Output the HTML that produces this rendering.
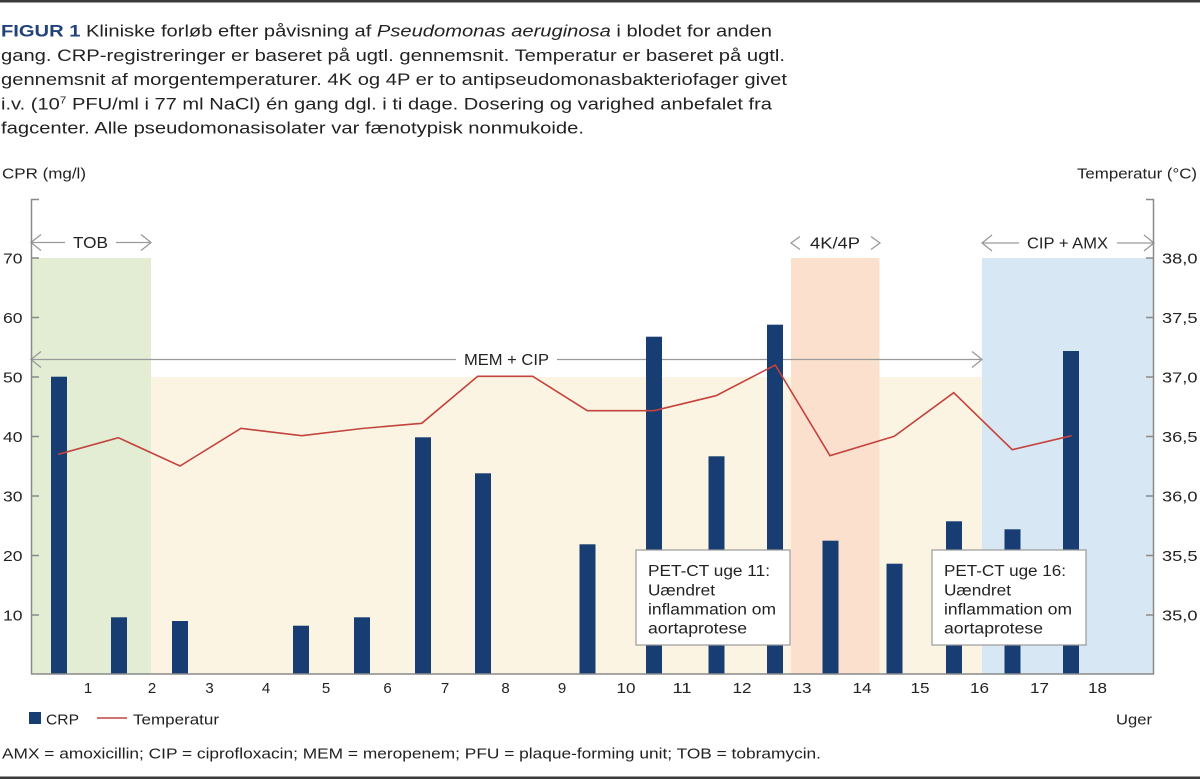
<!DOCTYPE html>
<html>
<head>
<meta charset="utf-8">
<style>
  html,body{margin:0;padding:0;background:#fff;}
  svg{display:block;}
  text{font-family:"Liberation Sans", Arial, sans-serif; fill:#222;}
</style>
</head>
<body>
<svg width="1200" height="779" viewBox="0 0 1200 779" xmlns="http://www.w3.org/2000/svg">
  <!-- borders -->
  <rect x="0" y="0" width="1200" height="2.5" fill="#3a3a3a"/>
  <rect x="0" y="776.5" width="1200" height="2.5" fill="#3a3a3a"/>

  <!-- Title -->
  <g font-size="17">
    <text x="1" y="36.5" textLength="771" lengthAdjust="spacingAndGlyphs"><tspan font-weight="bold" fill="#22427a" style="fill:#22427a">FIGUR 1</tspan> Kliniske forløb efter påvisning af <tspan font-style="italic">Pseudomonas aeruginosa</tspan> i blodet for anden</text>
    <text x="1" y="60.8" textLength="784" lengthAdjust="spacingAndGlyphs">gang. CRP-registreringer er baseret på ugtl. gennemsnit. Temperatur er baseret på ugtl.</text>
    <text x="1" y="85.1" textLength="786" lengthAdjust="spacingAndGlyphs">gennemsnit af morgentemperaturer. 4K og 4P er to antipseudomonasbakteriofager givet</text>
    <text x="1" y="109.4" textLength="771" lengthAdjust="spacingAndGlyphs">i.v. (10<tspan font-size="10" dy="-6">7</tspan><tspan dy="6"> PFU/ml i 77 ml NaCl) én gang dgl. i ti dage. Dosering og varighed anbefalet fra</tspan></text>
    <text x="1" y="133.7" textLength="583" lengthAdjust="spacingAndGlyphs">fagcenter. Alle pseudomonasisolater var fænotypisk nonmukoide.</text>
  </g>

  <!-- Axis titles -->
  <g font-size="15">
    <text x="2" y="178.5" textLength="84" lengthAdjust="spacingAndGlyphs">CPR (mg/l)</text>
    <text x="1077" y="178.5" textLength="120" lengthAdjust="spacingAndGlyphs">Temperatur (°C)</text>
  </g>

  <!-- Bands -->
  <rect x="151" y="377" width="831" height="297" fill="#fbf4e2"/>
  <rect x="31" y="258" width="120" height="416" fill="#e2edd3"/>
  <rect x="791" y="258" width="88.5" height="416" fill="#fae0cd"/>
  <rect x="982" y="258" width="171.5" height="416" fill="#d7e7f3"/>

  <!-- Arrows -->
  <g stroke="#9a9a9a" stroke-width="1.3" fill="none">
    <!-- TOB -->
    <line x1="31" y1="242.5" x2="65" y2="242.5"/>
    <line x1="116" y1="242.5" x2="151" y2="242.5"/>
    <polyline points="41,234.5 31,242.5 41,250.5"/>
    <polyline points="141,234.5 151,242.5 141,250.5"/>
    <!-- MEM + CIP -->
    <line x1="31" y1="359.5" x2="456" y2="359.5"/>
    <line x1="557" y1="359.5" x2="982" y2="359.5"/>
    <polyline points="41,351.5 31,359.5 41,367.5"/>
    <polyline points="972,351.5 982,359.5 972,367.5"/>
    <!-- 4K/4P -->
    <polyline points="800,236.5 791,243 800,249.5"/>
    <polyline points="871,236.5 880,243 871,249.5"/>
    <!-- CIP + AMX -->
    <line x1="982" y1="243" x2="1019" y2="243"/>
    <line x1="1117" y1="243" x2="1154" y2="243"/>
    <polyline points="992,235 982,243 992,251"/>
    <polyline points="1144,235 1154,243 1144,251"/>
  </g>
  <g font-size="15.5">
    <text x="73" y="248" textLength="35" lengthAdjust="spacingAndGlyphs">TOB</text>
    <text x="464" y="365" textLength="85" lengthAdjust="spacingAndGlyphs">MEM + CIP</text>
    <text x="810" y="248.5" textLength="50" lengthAdjust="spacingAndGlyphs">4K/4P</text>
    <text x="1027" y="248.5" textLength="81" lengthAdjust="spacingAndGlyphs">CIP + AMX</text>
  </g>

  <!-- Bars -->
  <g fill="#173d73">
    <rect x="51" y="376.7" width="16" height="297.3"/>
    <rect x="111" y="617.3" width="16" height="56.7"/>
    <rect x="172" y="621" width="16" height="53"/>
    <rect x="293" y="625.7" width="16" height="48.3"/>
    <rect x="354" y="617.3" width="16" height="56.7"/>
    <rect x="415" y="437.3" width="16" height="236.7"/>
    <rect x="475" y="473.3" width="16" height="200.7"/>
    <rect x="579.5" y="544.3" width="16" height="129.7"/>
    <rect x="646" y="336.7" width="16" height="337.3"/>
    <rect x="708.5" y="456.3" width="16" height="217.7"/>
    <rect x="767" y="324.7" width="16" height="349.3"/>
    <rect x="822.5" y="540.7" width="16" height="133.3"/>
    <rect x="886.5" y="563.7" width="16" height="110.3"/>
    <rect x="946" y="521.3" width="16" height="152.7"/>
    <rect x="1004.5" y="529.3" width="16" height="144.7"/>
    <rect x="1063" y="351" width="16" height="323"/>
  </g>

  <!-- Temperature line -->
  <polyline fill="none" stroke="#c4433d" stroke-width="1.6" stroke-linejoin="miter"
    points="58.3,454.3 118.3,437.7 180,466 241,428.3 301.7,435.7 362,428.5 421.7,423.3 477.7,376.3 532.7,376.3 587.3,410.7 654,410.7 716,395.7 775.3,365 830,455.7 894.3,436.3 953.7,392.7 1012.3,449.7 1071.7,435.7"/>

  <!-- Annotation boxes -->
  <rect x="636" y="550" width="154" height="95" fill="#fff" stroke="#9a9a9a" stroke-width="1.2"/>
  <rect x="932" y="550" width="154" height="95" fill="#fff" stroke="#9a9a9a" stroke-width="1.2"/>
  <g font-size="15.5">
    <text x="648" y="576" textLength="122" lengthAdjust="spacingAndGlyphs">PET-CT uge 11:</text>
    <text x="648" y="595.3" textLength="67" lengthAdjust="spacingAndGlyphs">Uændret</text>
    <text x="648" y="614.5" textLength="128" lengthAdjust="spacingAndGlyphs">inflammation om</text>
    <text x="648" y="633.7" textLength="99" lengthAdjust="spacingAndGlyphs">aortaprotese</text>
    <text x="944" y="576" textLength="122" lengthAdjust="spacingAndGlyphs">PET-CT uge 16:</text>
    <text x="944" y="595.3" textLength="67" lengthAdjust="spacingAndGlyphs">Uændret</text>
    <text x="944" y="614.5" textLength="128" lengthAdjust="spacingAndGlyphs">inflammation om</text>
    <text x="944" y="633.7" textLength="99" lengthAdjust="spacingAndGlyphs">aortaprotese</text>
  </g>

  <!-- Axes -->
  <g stroke="#8a8a8a" stroke-width="1.5" fill="none">
    <line x1="31.5" y1="199" x2="31.5" y2="674"/>
    <line x1="1153.5" y1="199" x2="1153.5" y2="674"/>
    <line x1="31" y1="674" x2="1154" y2="674"/>
    <!-- left ticks -->
    <line x1="31" y1="199.5" x2="39" y2="199.5"/>
    <line x1="31" y1="258" x2="39" y2="258"/>
    <line x1="31" y1="317.5" x2="39" y2="317.5"/>
    <line x1="31" y1="377" x2="39" y2="377"/>
    <line x1="31" y1="436.5" x2="39" y2="436.5"/>
    <line x1="31" y1="496" x2="39" y2="496"/>
    <line x1="31" y1="555.5" x2="39" y2="555.5"/>
    <line x1="31" y1="615" x2="39" y2="615"/>
    <!-- right ticks -->
    <line x1="1146" y1="199.5" x2="1154" y2="199.5"/>
    <line x1="1146" y1="258" x2="1154" y2="258"/>
    <line x1="1146" y1="317.5" x2="1154" y2="317.5"/>
    <line x1="1146" y1="377" x2="1154" y2="377"/>
    <line x1="1146" y1="436.5" x2="1154" y2="436.5"/>
    <line x1="1146" y1="496" x2="1154" y2="496"/>
    <line x1="1146" y1="555.5" x2="1154" y2="555.5"/>
    <line x1="1146" y1="615" x2="1154" y2="615"/>
  </g>

  <!-- Left tick labels -->
  <g font-size="15">
    <text x="3" y="263.5" textLength="19.5" lengthAdjust="spacingAndGlyphs">70</text>
    <text x="3" y="323" textLength="19.5" lengthAdjust="spacingAndGlyphs">60</text>
    <text x="3" y="382.5" textLength="19.5" lengthAdjust="spacingAndGlyphs">50</text>
    <text x="3" y="442" textLength="19.5" lengthAdjust="spacingAndGlyphs">40</text>
    <text x="3" y="501.5" textLength="19.5" lengthAdjust="spacingAndGlyphs">30</text>
    <text x="3" y="561" textLength="19.5" lengthAdjust="spacingAndGlyphs">20</text>
    <text x="3" y="620.5" textLength="19.5" lengthAdjust="spacingAndGlyphs">10</text>
  </g>
  <!-- Right tick labels -->
  <g font-size="15">
    <text x="1162" y="263.5" textLength="35.5" lengthAdjust="spacingAndGlyphs">38,0</text>
    <text x="1162" y="323" textLength="35.5" lengthAdjust="spacingAndGlyphs">37,5</text>
    <text x="1162" y="382.5" textLength="35.5" lengthAdjust="spacingAndGlyphs">37,0</text>
    <text x="1162" y="442" textLength="35.5" lengthAdjust="spacingAndGlyphs">36,5</text>
    <text x="1162" y="501.5" textLength="35.5" lengthAdjust="spacingAndGlyphs">36,0</text>
    <text x="1162" y="561" textLength="35.5" lengthAdjust="spacingAndGlyphs">35,5</text>
    <text x="1162" y="620.5" textLength="35.5" lengthAdjust="spacingAndGlyphs">35,0</text>
  </g>

  <!-- X labels -->
  <g font-size="15" text-anchor="middle">
    <text x="88" y="693">1</text>
    <text x="152" y="693">2</text>
    <text x="209.5" y="693">3</text>
    <text x="266" y="693">4</text>
    <text x="326" y="693">5</text>
    <text x="387.5" y="693">6</text>
    <text x="445" y="693">7</text>
    <text x="505.5" y="693">8</text>
    <text x="562" y="693">9</text>
    <text x="626" y="693" textLength="19" lengthAdjust="spacingAndGlyphs">10</text>
    <text x="682" y="693" textLength="19" lengthAdjust="spacingAndGlyphs">11</text>
    <text x="742" y="693" textLength="19" lengthAdjust="spacingAndGlyphs">12</text>
    <text x="802" y="693" textLength="19" lengthAdjust="spacingAndGlyphs">13</text>
    <text x="862" y="693" textLength="19" lengthAdjust="spacingAndGlyphs">14</text>
    <text x="920" y="693" textLength="19" lengthAdjust="spacingAndGlyphs">15</text>
    <text x="979.5" y="693" textLength="19" lengthAdjust="spacingAndGlyphs">16</text>
    <text x="1039.5" y="693" textLength="19" lengthAdjust="spacingAndGlyphs">17</text>
    <text x="1097.5" y="693" textLength="19" lengthAdjust="spacingAndGlyphs">18</text>
  </g>

  <!-- Legend -->
  <rect x="29" y="712" width="12" height="12" fill="#173d73"/>
  <line x1="97" y1="718" x2="127" y2="718" stroke="#c4433d" stroke-width="1.6"/>
  <g font-size="15">
    <text x="46" y="724.5" textLength="33" lengthAdjust="spacingAndGlyphs">CRP</text>
    <text x="133" y="724.5" textLength="86" lengthAdjust="spacingAndGlyphs">Temperatur</text>
    <text x="1116" y="724.5" textLength="36" lengthAdjust="spacingAndGlyphs">Uger</text>
  </g>

  <!-- Footnote -->
  <text x="2" y="758.5" font-size="15" textLength="819" lengthAdjust="spacingAndGlyphs">AMX = amoxicillin; CIP = ciprofloxacin; MEM = meropenem; PFU = plaque-forming unit; TOB = tobramycin.</text>
</svg>
</body>
</html>
